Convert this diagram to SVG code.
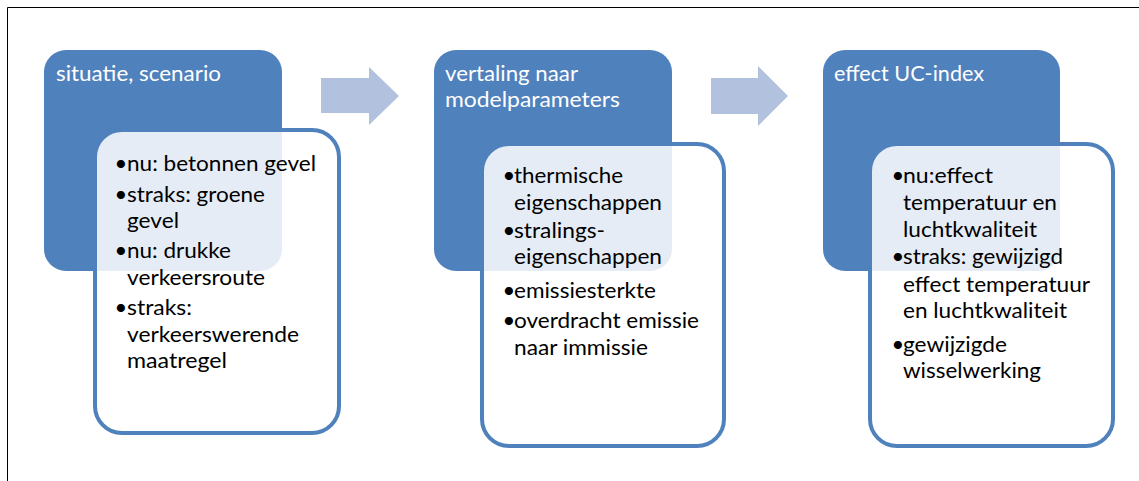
<svg xmlns="http://www.w3.org/2000/svg" width="1139" height="481" viewBox="0 0 1139 481">
  <style>
    .head { fill: #4F81BD; }
    .card { fill: #FFFFFF; fill-opacity: 0.85; stroke: #4F81BD; stroke-width: 4; }
    .arrow { fill: #B2C2DE; }
    .frame { stroke: #000000; stroke-width: 1; fill: none; }
    text { font-family: Lato, "Liberation Sans", sans-serif; font-size: 22px; }
    .title { fill: #FFFFFF; }
    .item { fill: #000000; }
    .dot { fill: #000000; text-anchor: middle; }
  </style>

  <!-- page frame -->
  <path class="frame" d="M7.5,481 V7.5 H1139"/>

  <!-- connectors: block arrows between the stages -->
  <g id="connectors">
    <polygon class="arrow" points="321,78 369,78 369,67 399,96 369,125 369,113 321,113"/>
    <polygon class="arrow" points="711,78 758,78 758,66 788,96 758,126 758,114 711,114"/>
  </g>

  <!-- stage 1 -->
  <g id="stage-situatie">
    <rect class="head" x="44" y="50" width="238" height="221" rx="22"/>
    <text class="title" x="56" y="81" textLength="165" lengthAdjust="spacingAndGlyphs">situatie, scenario</text>
    <rect class="card" x="95" y="130" width="244" height="303" rx="27"/>
    <text class="dot" x="121" y="171">•</text>
    <text class="item" x="127" y="171" textLength="189" lengthAdjust="spacingAndGlyphs">nu: betonnen gevel</text>
    <text class="dot" x="121" y="202">•</text>
    <text class="item" x="127" y="202" textLength="138" lengthAdjust="spacingAndGlyphs">straks: groene</text>
    <text class="item" x="127" y="228" textLength="52" lengthAdjust="spacingAndGlyphs">gevel</text>
    <text class="dot" x="121" y="258">•</text>
    <text class="item" x="127" y="258" textLength="104" lengthAdjust="spacingAndGlyphs">nu: drukke</text>
    <text class="item" x="127" y="285" textLength="138" lengthAdjust="spacingAndGlyphs">verkeersroute</text>
    <text class="dot" x="121" y="315">•</text>
    <text class="item" x="127" y="315" textLength="65" lengthAdjust="spacingAndGlyphs">straks:</text>
    <text class="item" x="127" y="342" textLength="172" lengthAdjust="spacingAndGlyphs">verkeerswerende</text>
    <text class="item" x="127" y="368" textLength="100" lengthAdjust="spacingAndGlyphs">maatregel</text>
  </g>

  <!-- stage 2 -->
  <g id="stage-vertaling">
    <rect class="head" x="434" y="50" width="238" height="221" rx="22"/>
    <text class="title" x="445" y="81" textLength="133" lengthAdjust="spacingAndGlyphs">vertaling naar</text>
    <text class="title" x="445" y="107" textLength="175" lengthAdjust="spacingAndGlyphs">modelparameters</text>
    <rect class="card" x="482" y="144" width="242" height="302" rx="27"/>
    <text class="dot" x="509" y="183">•</text>
    <text class="item" x="514" y="183" textLength="109" lengthAdjust="spacingAndGlyphs">thermische</text>
    <text class="item" x="514" y="210" textLength="148" lengthAdjust="spacingAndGlyphs">eigenschappen</text>
    <text class="dot" x="509" y="238">•</text>
    <text class="item" x="514" y="238" textLength="91" lengthAdjust="spacingAndGlyphs">stralings-</text>
    <text class="item" x="514" y="264" textLength="148" lengthAdjust="spacingAndGlyphs">eigenschappen</text>
    <text class="dot" x="509" y="298">•</text>
    <text class="item" x="514" y="298" textLength="142" lengthAdjust="spacingAndGlyphs">emissiesterkte</text>
    <text class="dot" x="509" y="328">•</text>
    <text class="item" x="514" y="328" textLength="185" lengthAdjust="spacingAndGlyphs">overdracht emissie</text>
    <text class="item" x="514" y="355" textLength="134" lengthAdjust="spacingAndGlyphs">naar immissie</text>
  </g>

  <!-- stage 3 -->
  <g id="stage-effect">
    <rect class="head" x="823" y="50" width="237" height="221" rx="22"/>
    <text class="title" x="834" y="81" textLength="150" lengthAdjust="spacingAndGlyphs">effect UC-index</text>
    <rect class="card" x="870" y="144" width="243" height="302" rx="27"/>
    <text class="dot" x="898" y="183">•</text>
    <text class="item" x="903" y="183" textLength="90" lengthAdjust="spacingAndGlyphs">nu:effect</text>
    <text class="item" x="903" y="210" textLength="154" lengthAdjust="spacingAndGlyphs">temperatuur en</text>
    <text class="item" x="903" y="237" textLength="134" lengthAdjust="spacingAndGlyphs">luchtkwaliteit</text>
    <text class="dot" x="898" y="264">•</text>
    <text class="item" x="903" y="264" textLength="160" lengthAdjust="spacingAndGlyphs">straks: gewijzigd</text>
    <text class="item" x="903" y="292" textLength="187" lengthAdjust="spacingAndGlyphs">effect temperatuur</text>
    <text class="item" x="903" y="318" textLength="164" lengthAdjust="spacingAndGlyphs">en luchtkwaliteit</text>
    <text class="dot" x="898" y="352">•</text>
    <text class="item" x="903" y="352" textLength="104" lengthAdjust="spacingAndGlyphs">gewijzigde</text>
    <text class="item" x="903" y="378" textLength="138" lengthAdjust="spacingAndGlyphs">wisselwerking</text>
  </g>
</svg>
